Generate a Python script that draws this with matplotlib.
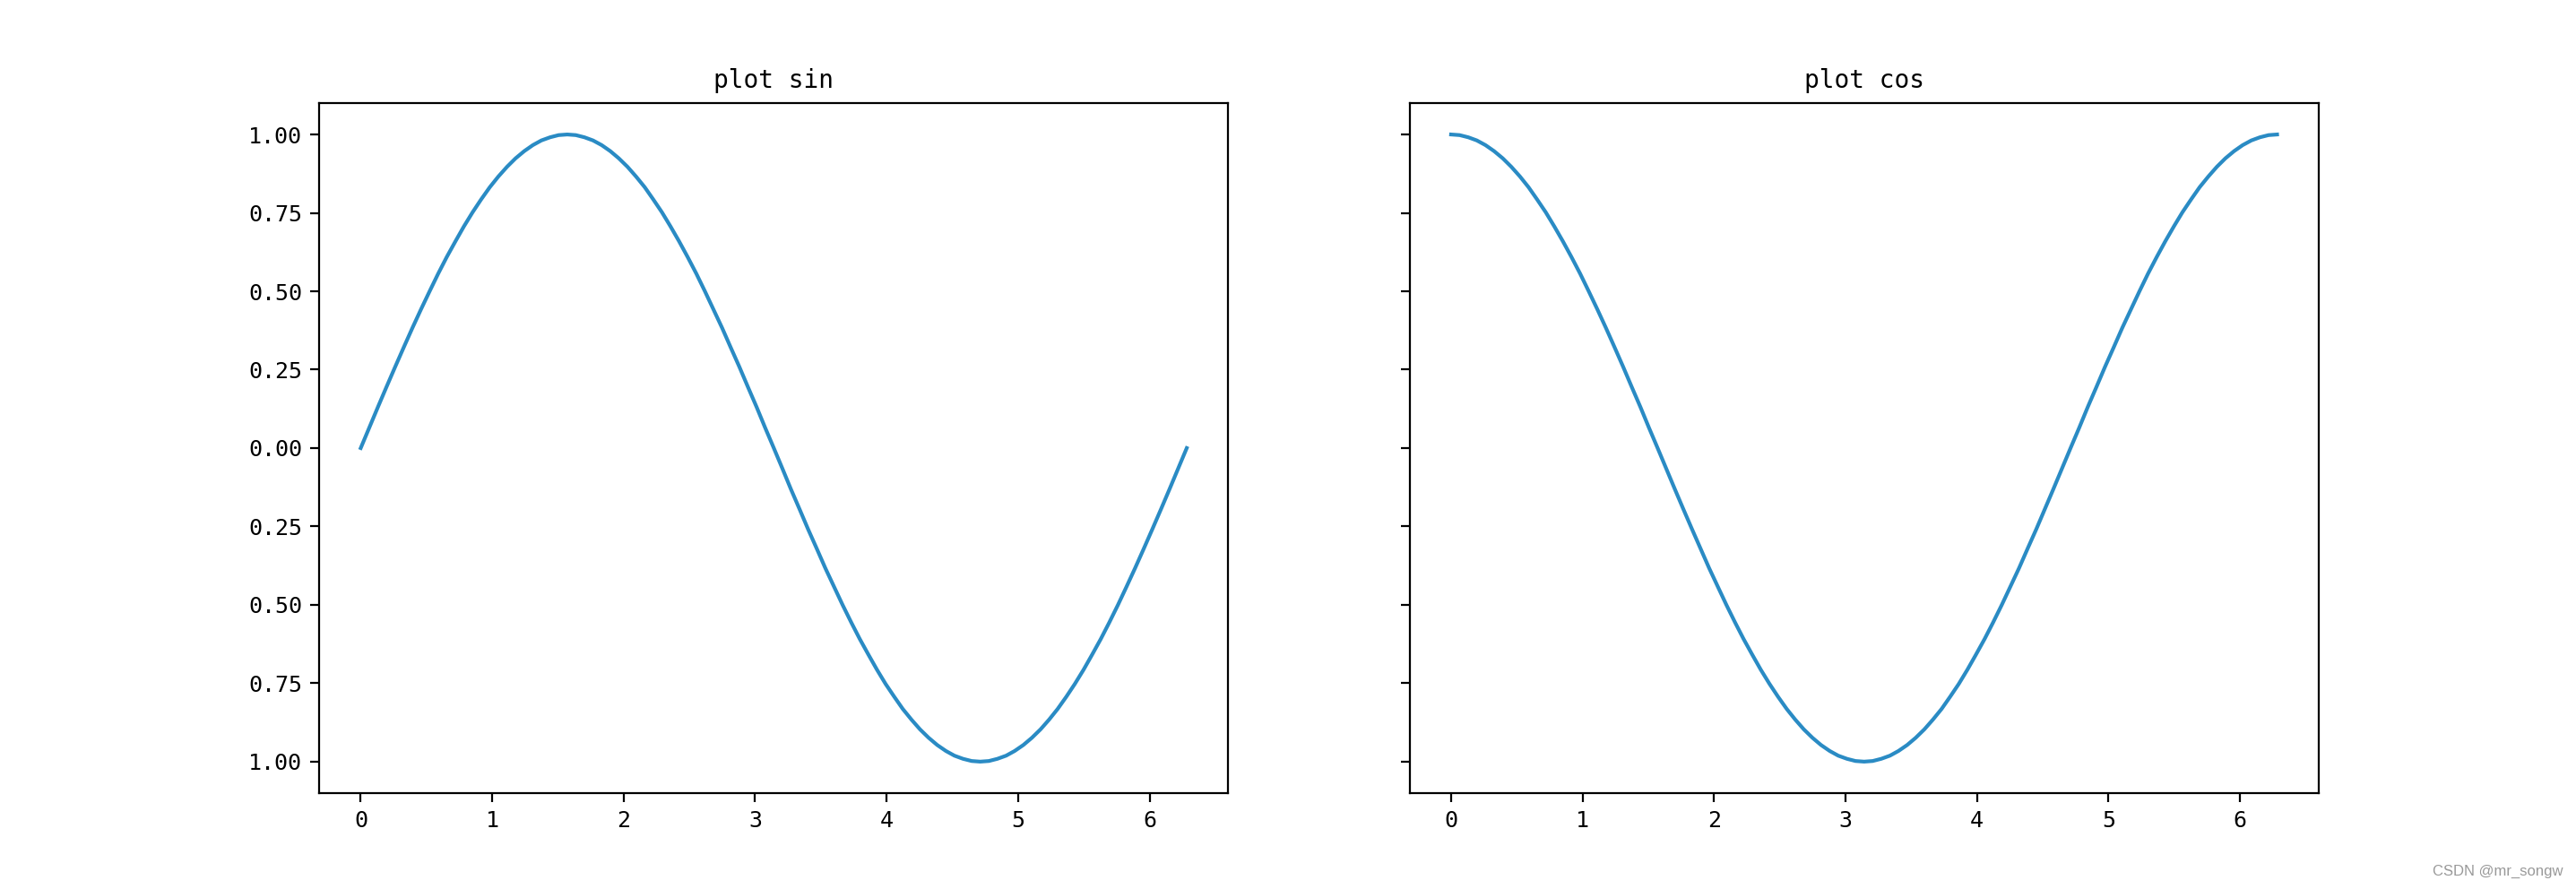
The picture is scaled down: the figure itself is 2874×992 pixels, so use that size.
import matplotlib
matplotlib.use("Agg")
import matplotlib.pyplot as plt
from matplotlib.ticker import FuncFormatter

plt.rcParams['font.family'] = ['DejaVu Sans Mono', 'DejaVu Sans']
plt.rcParams['axes.unicode_minus'] = False

# Sampled x positions (0 .. 2*pi, step pi/48)
x_vals = [0.000, 0.065, 0.131, 0.196, 0.262, 0.327, 0.393, 0.458, 0.524, 0.589,
          0.654, 0.720, 0.785, 0.851, 0.916, 0.982, 1.047, 1.113, 1.178, 1.244,
          1.309, 1.374, 1.440, 1.505, 1.571, 1.636, 1.702, 1.767, 1.833, 1.898,
          1.963, 2.029, 2.094, 2.160, 2.225, 2.291, 2.356, 2.422, 2.487, 2.553,
          2.618, 2.683, 2.749, 2.814, 2.880, 2.945, 3.011, 3.076, 3.142, 3.207,
          3.272, 3.338, 3.403, 3.469, 3.534, 3.600, 3.665, 3.731, 3.796, 3.862,
          3.927, 3.992, 4.058, 4.123, 4.189, 4.254, 4.320, 4.385, 4.451, 4.516,
          4.581, 4.647, 4.712, 4.778, 4.843, 4.909, 4.974, 5.040, 5.105, 5.171,
          5.236, 5.301, 5.367, 5.432, 5.498, 5.563, 5.629, 5.694, 5.760, 5.825,
          5.890, 5.956, 6.021, 6.087, 6.152, 6.218, 6.283]

sin_vals = [0.000, 0.065, 0.131, 0.195, 0.259, 0.321, 0.383, 0.442, 0.500, 0.556,
            0.609, 0.659, 0.707, 0.752, 0.793, 0.832, 0.866, 0.897, 0.924, 0.947,
            0.966, 0.981, 0.991, 0.998, 1.000, 0.998, 0.991, 0.981, 0.966, 0.947,
            0.924, 0.897, 0.866, 0.832, 0.793, 0.752, 0.707, 0.659, 0.609, 0.556,
            0.500, 0.442, 0.383, 0.321, 0.259, 0.195, 0.131, 0.065, 0.000, -0.065,
            -0.131, -0.195, -0.259, -0.321, -0.383, -0.442, -0.500, -0.556, -0.609, -0.659,
            -0.707, -0.752, -0.793, -0.832, -0.866, -0.897, -0.924, -0.947, -0.966, -0.981,
            -0.991, -0.998, -1.000, -0.998, -0.991, -0.981, -0.966, -0.947, -0.924, -0.897,
            -0.866, -0.832, -0.793, -0.752, -0.707, -0.659, -0.609, -0.556, -0.500, -0.442,
            -0.383, -0.321, -0.259, -0.195, -0.131, -0.065, 0.000]

cos_vals = [1.000, 0.998, 0.991, 0.981, 0.966, 0.947, 0.924, 0.897, 0.866, 0.832,
            0.793, 0.752, 0.707, 0.659, 0.609, 0.556, 0.500, 0.442, 0.383, 0.321,
            0.259, 0.195, 0.131, 0.065, 0.000, -0.065, -0.131, -0.195, -0.259, -0.321,
            -0.383, -0.442, -0.500, -0.556, -0.609, -0.659, -0.707, -0.752, -0.793, -0.832,
            -0.866, -0.897, -0.924, -0.947, -0.966, -0.981, -0.991, -0.998, -1.000, -0.998,
            -0.991, -0.981, -0.966, -0.947, -0.924, -0.897, -0.866, -0.832, -0.793, -0.752,
            -0.707, -0.659, -0.609, -0.556, -0.500, -0.442, -0.383, -0.321, -0.259, -0.195,
            -0.131, -0.065, 0.000, 0.065, 0.131, 0.195, 0.259, 0.321, 0.383, 0.442,
            0.500, 0.556, 0.609, 0.659, 0.707, 0.752, 0.793, 0.832, 0.866, 0.897,
            0.924, 0.947, 0.966, 0.981, 0.991, 0.998, 1.000]

titles = ["plot sin", "plot cos"]
line_color = "#2a8bc4"

fig, axes = plt.subplots(1, 2, figsize=(14.37, 4.96), dpi=200, sharey=True)
fig.subplots_adjust(left=0.124, right=0.900, top=0.884, bottom=0.108, wspace=0.2)

for ax, ys, title in zip(axes, [sin_vals, cos_vals], titles):
    ax.plot(x_vals, ys, color=line_color, linewidth=1.5)
    ax.set_title(title, fontsize=10)
    ax.tick_params(labelsize=9)

# negative labels render without the minus sign in the reference
axes[0].yaxis.set_major_formatter(FuncFormatter(lambda v, p: f"{abs(v):.2f}"))
axes[0].set_ylim(-1.1, 1.1)

fig.text(0.995, 0.012, "CSDN @mr_songw", ha="right", va="bottom",
         fontsize=6, color="#999999", family=["Liberation Sans", "DejaVu Sans"])

fig.savefig("out.png", dpi=200)
